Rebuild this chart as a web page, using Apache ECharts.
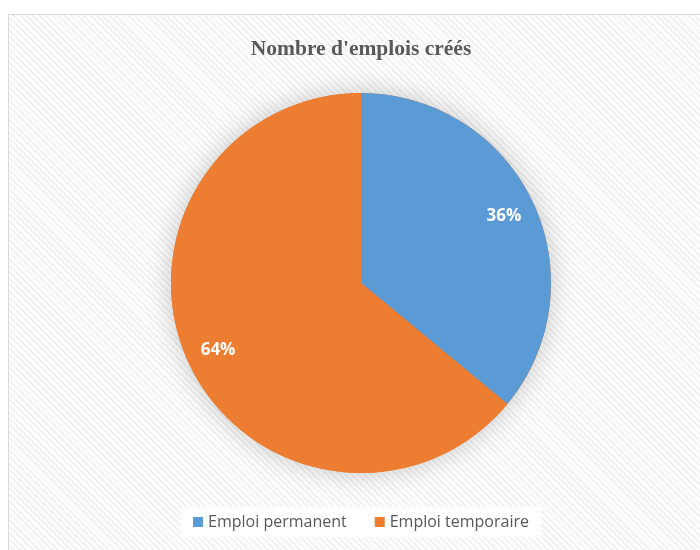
<!DOCTYPE html>
<html>
<head>
<meta charset="utf-8">
<script src="https://cdn.jsdelivr.net/npm/echarts@6/dist/echarts.min.js"></script>
<style>
html,body{margin:0;padding:0;background:#fff;width:700px;height:550px;overflow:hidden;}
#frame{position:absolute;left:8px;top:14px;width:700px;height:550px;border:1px solid #d9d9d9;box-sizing:border-box;
background:repeating-linear-gradient(45deg,#ffffff 0px,#ffffff 2.5px,#f2f2f2 2.5px,#f2f2f2 4.5px);}
#chart{position:absolute;left:11px;top:0;width:700px;height:550px;}
</style>
</head>
<body>
<div id="frame"></div>
<div id="chart"></div>
<script>
const titleText = "Nombre d'emplois créés";
const categories = ["Emploi permanent", "Emploi temporaire"];
const values = [36, 64];
const colors = ["#5B9BD5", "#ED7D31"];

const pieData = categories.map((c, i) => ({ name: c, value: values[i], itemStyle: { color: colors[i] } }));
const total = values.reduce((a, b) => a + b, 0);

const chart = echarts.init(document.getElementById('chart'), null, { renderer: 'canvas' });
chart.setOption({
  backgroundColor: 'transparent',
  animation: false,
  title: {
    text: titleText,
    left: 'center',
    top: 33,
    textStyle: { fontFamily: 'Liberation Serif', fontWeight: 'bold', fontSize: 21.5, color: '#595959' }
  },
  legend: {
    data: categories,
    top: 507,
    left: 'center',
    itemWidth: 10,
    itemHeight: 10,
    itemGap: 28,
    icon: 'rect',
    backgroundColor: '#ffffff',
    padding: [7, 12],
    textStyle: { fontFamily: 'Open Sans', fontSize: 16, color: '#595959' }
  },
  series: [
    {
      type: 'pie',
      z: 1,
      center: [350, 283],
      radius: [0, 190],
      silent: true,
      data: [{ value: total, itemStyle: { color: '#ED7D31' } }],
      label: { show: false },
      labelLine: { show: false },
      itemStyle: { shadowBlur: 28, shadowColor: 'rgba(0,0,0,0.22)' },
      emphasis: { disabled: true }
    },
    {
      type: 'pie',
      z: 2,
      center: [350, 283],
      radius: [0, 190],
      startAngle: 90,
      clockwise: true,
      data: pieData,
      label: { show: false },
      labelLine: { show: false },
      itemStyle: { borderWidth: 0 },
      emphasis: { disabled: true }
    },
    {
      type: 'pie',
      z: 3,
      center: [350, 283],
      radius: [120, 190],
      startAngle: 90,
      clockwise: true,
      silent: true,
      data: categories.map((c, i) => ({ name: c, value: values[i], itemStyle: { color: 'rgba(0,0,0,0)' } })),
      label: {
        show: true,
        position: 'inside',
        formatter: '{d}%',
        fontFamily: 'Open Sans',
        fontWeight: 'bold',
        fontSize: 17,
        color: '#ffffff'
      },
      labelLine: { show: false },
      emphasis: { disabled: true }
    }
  ]
});
</script>
</body>
</html>
